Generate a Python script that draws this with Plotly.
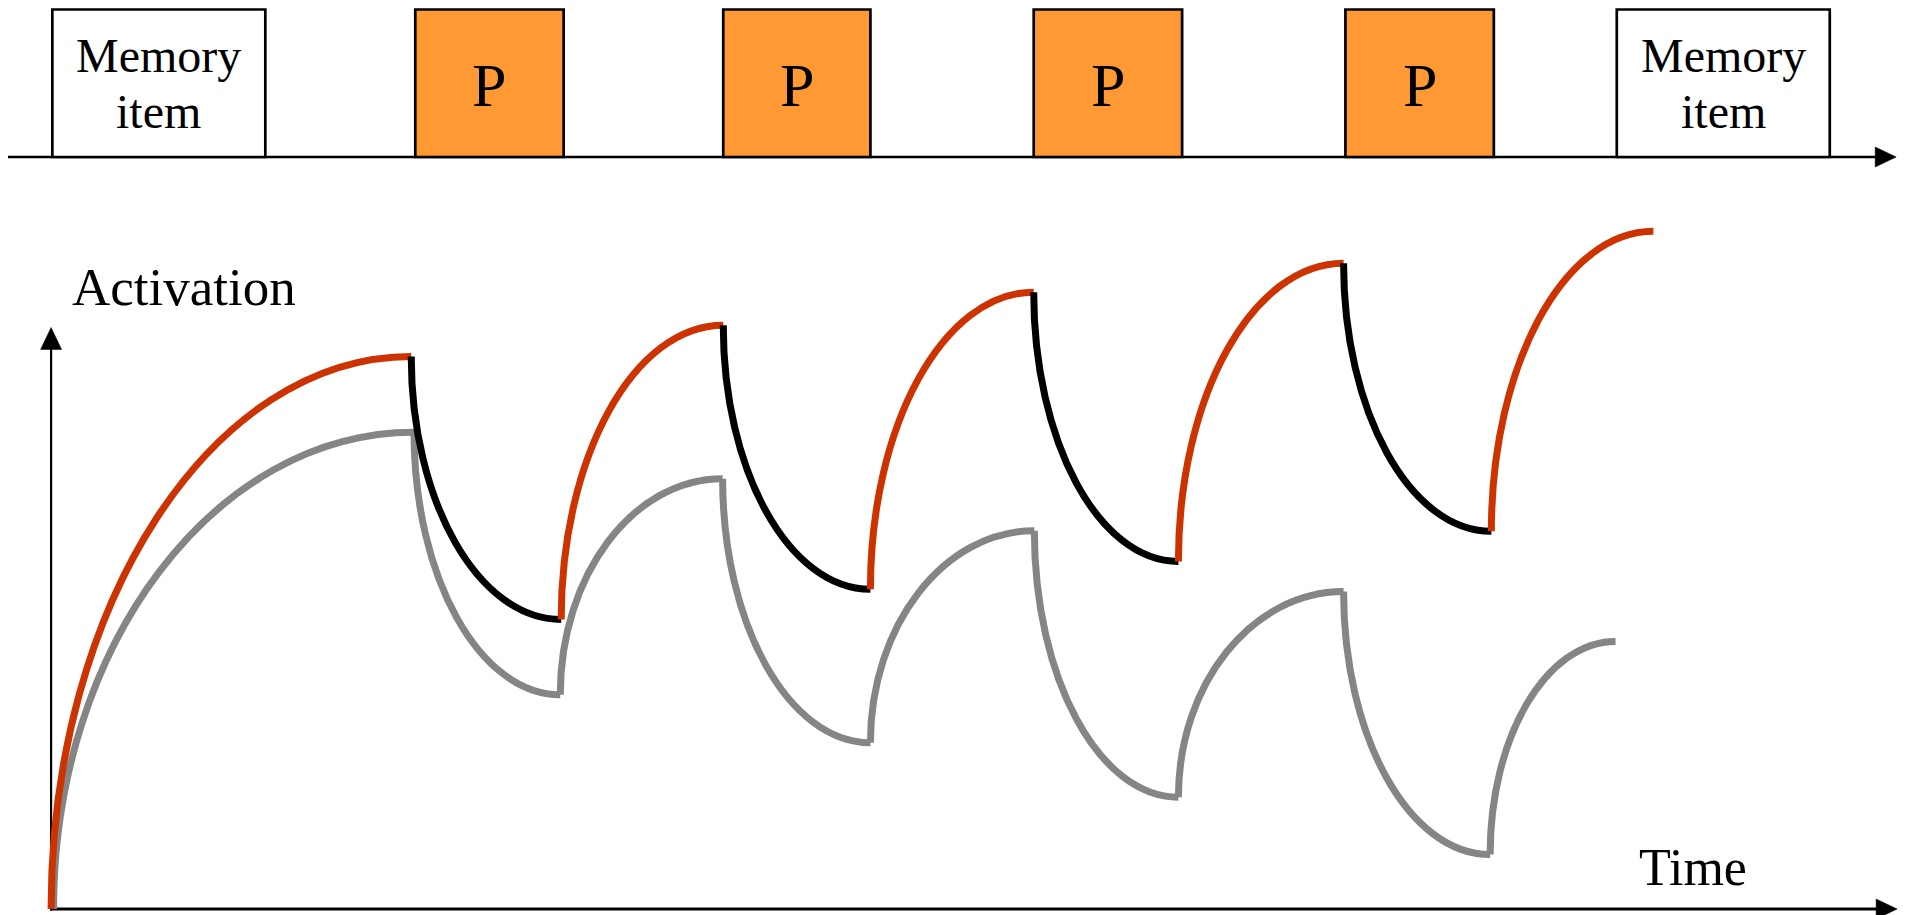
import plotly.graph_objects as go

# ---------------- data ----------------
# top timeline: presented events (time units)
event_labels = ["Memory<br>item", "P", "P", "P", "P", "Memory<br>item"]
event_start = [0.4, 117.3, 216.5, 316.5, 416.9, 504.3]
event_end = [69.0, 165.1, 263.9, 364.3, 464.7, 572.9]

# activation curve breakpoints (alternating rise / decay)
upper_t = [0, 116.0, 164.3, 216.5, 263.9, 316.5, 363.1, 416.3, 463.9, 516.1]
upper_a = [0, 95.4, 50.0, 100.8, 55.2, 106.5, 60.0, 111.5, 65.2, 117.0]
lower_t = [0.8, 116.9, 164.0, 216.3, 263.9, 316.7, 363.1, 416.3, 463.5, 503.9]
lower_a = [0, 82.3, 37.0, 74.3, 28.7, 65.3, 19.3, 54.8, 9.4, 46.2]

axis_labels = ["Activation", "Time"]

# ---------------- styles ----------------
RED = "#CC3300"
GRAY = "#858585"
ORANGE = "#FF9933"
FONT = "Liberation Serif, Times New Roman, serif"
K = 0.5523
CURVE_W = 7

fig = go.Figure()
shapes = []
annotations = []


def arc_path(t0, a0, t1, a1):
    c1 = (t0, a0 + K * (a1 - a0))
    c2 = (t1 - K * (t1 - t0), a1)
    return f"M {t0},{a0} C {c1[0]},{c1[1]} {c2[0]},{c2[1]} {t1},{a1}"


# activation axes
shapes.append(dict(type="line", xref="x", yref="y", x0=0, x1=0, y0=-0.3, y1=97,
                   line=dict(color="black", width=2.2)))
shapes.append(dict(type="line", xref="x", yref="y", x0=0, x1=590, y0=0, y1=0,
                   line=dict(color="black", width=3)))
shapes.append(dict(type="path", xref="x", yref="y", xsizemode="pixel", ysizemode="pixel",
                   xanchor=0, yanchor=100.4, path="M 0,0 L -10.5,-22 L 10.5,-22 Z",
                   fillcolor="black", line=dict(color="black", width=0.5)))
shapes.append(dict(type="path", xref="x", yref="y", xsizemode="pixel", ysizemode="pixel",
                   xanchor=594.6, yanchor=0, path="M 0,0 L -21,10 L -21,-10 Z",
                   fillcolor="black", line=dict(color="black", width=0.5)))

# lower (gray) curve
for i in range(len(lower_t) - 1):
    shapes.append(dict(type="path", xref="x", yref="y",
                       path=arc_path(lower_t[i], lower_a[i], lower_t[i + 1], lower_a[i + 1]),
                       line=dict(color=GRAY, width=CURVE_W)))
# upper curve: rises red, decays black
for i in range(len(upper_t) - 1):
    col = RED if upper_a[i + 1] > upper_a[i] else "black"
    shapes.append(dict(type="path", xref="x", yref="y",
                       path=arc_path(upper_t[i], upper_a[i], upper_t[i + 1], upper_a[i + 1]),
                       line=dict(color=col, width=CURVE_W)))

# top timeline
shapes.append(dict(type="line", xref="x", yref="y2", x0=-13.9, x1=590, y0=0, y1=0,
                   line=dict(color="black", width=2.5)))
shapes.append(dict(type="path", xref="x", yref="y2", xsizemode="pixel", ysizemode="pixel",
                   xanchor=594.3, yanchor=0, path="M 0,0 L -21,10 L -21,-10 Z",
                   fillcolor="black", line=dict(color="black", width=0.5)))
for lab, s, e in zip(event_labels, event_start, event_end):
    fill = ORANGE if lab == "P" else "white"
    shapes.append(dict(type="rect", xref="x", yref="y2", x0=s, x1=e, y0=0, y1=1,
                       fillcolor=fill, line=dict(color="black", width=2.7)))
    lines = lab.split("<br>")
    if len(lines) == 1:
        annotations.append(dict(x=(s + e) / 2, y=0.488, xref="x", yref="y2", text=lines[0],
                                showarrow=False, font=dict(family=FONT, size=62, color="black"),
                                xanchor="center", yanchor="middle"))
    else:
        for txt, yy in zip(lines, [0.687, 0.306]):
            annotations.append(dict(x=(s + e) / 2, y=yy, xref="x", yref="y2", text=txt,
                                    showarrow=False, font=dict(family=FONT, size=48, color="black"),
                                    xanchor="center", yanchor="middle"))

annotations.append(dict(x=42.8, y=107.4, xref="x", yref="y", text=axis_labels[0], showarrow=False,
                        font=dict(family=FONT, size=53, color="black"),
                        xanchor="center", yanchor="middle"))
annotations.append(dict(x=528.9, y=7.2, xref="x", yref="y", text=axis_labels[1], showarrow=False,
                        font=dict(family=FONT, size=52, color="black"),
                        xanchor="center", yanchor="middle"))

fig.update_layout(
    width=1909, height=915,
    margin=dict(l=0, r=0, t=0, b=0),
    paper_bgcolor="white", plot_bgcolor="white",
    showlegend=False,
    shapes=shapes, annotations=annotations,
    xaxis=dict(range=[-13.88, 601.0], visible=False, fixedrange=True),
    yaxis=dict(range=[-2.417, 123.96], domain=[0, 0.8], visible=False, fixedrange=True),
    yaxis2=dict(range=[-0.2305, 1.0102], domain=[0.8, 1.0], visible=False, fixedrange=True),
)
# invisible anchor traces so both axes are rendered
fig.add_trace(go.Scatter(x=[event_start[0]], y=[0], mode="markers", marker=dict(opacity=0),
                         hoverinfo="skip", yaxis="y"))
fig.add_trace(go.Scatter(x=[event_start[0]], y=[0], mode="markers", marker=dict(opacity=0),
                         hoverinfo="skip", yaxis="y2"))

fig.write_html("out.html", config={"displayModeBar": False})
